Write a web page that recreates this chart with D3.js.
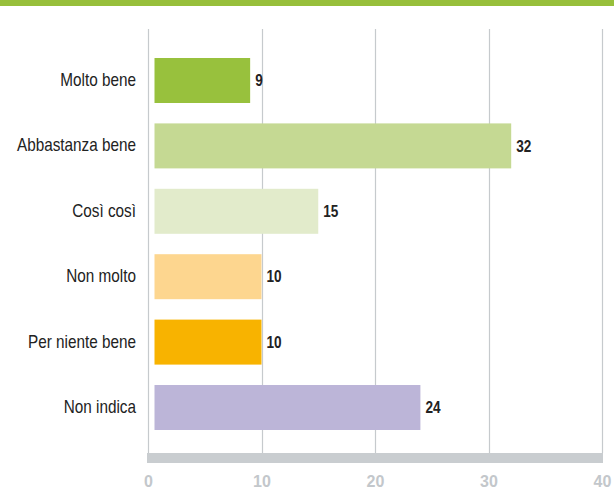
<!DOCTYPE html>
<html>
<head>
<meta charset="utf-8">
<script src="https://d3js.org/d3.v7.min.js"></script>
<style>
  body { margin: 0; background: #fff; }
</style>
</head>
<body>
<div id="chart"></div>
<script>
// chart data
var categories = ["Molto bene", "Abbastanza bene", "Così così", "Non molto", "Per niente bene", "Non indica"];
var values = [9, 32, 15, 10, 10, 24];
var barColors = ["#98c13d", "#c5d993", "#e2ebcb", "#fdd68f", "#f8b300", "#bcb5d8"];
var tickValues = [0, 10, 20, 30, 40];

var width = 614, height = 491;
// no narrow font available, so squeeze Liberation Sans horizontally
var narrow = 0.85;

var svg = d3.select("#chart")
  .append("svg")
    .attr("width", width)
    .attr("height", height);

// green strip on top
svg.append("rect")
  .attr("x", 0).attr("y", 0)
  .attr("width", width).attr("height", 6)
  .attr("fill", "#97bf3b");

var x = d3.scaleLinear()
  .domain([0, 40])
  .range([148, 602]);

var y = d3.scaleBand()
  .domain(categories)
  .range([47.8, 440.2])
  .paddingInner(0.312)
  .paddingOuter(0.156);

// vertical grid lines (0 is the left axis)
svg.selectAll(".grid")
  .data(tickValues)
  .enter()
  .append("line")
    .attr("class", "grid")
    .attr("x1", function(d) { return Math.round(x(d)) + 0.5; })
    .attr("x2", function(d) { return Math.round(x(d)) + 0.5; })
    .attr("y1", 29)
    .attr("y2", 453)
    .attr("stroke", "#c6cacd")
    .attr("stroke-width", 1.2);

// grey base band
svg.append("rect")
  .attr("x", x(0) - 1)
  .attr("y", 453)
  .attr("width", x(40) - x(0) + 2)
  .attr("height", 10)
  .attr("fill", "#c9cdd0");

// bars
svg.selectAll(".bar")
  .data(values)
  .enter()
  .append("rect")
    .attr("class", "bar")
    .attr("x", x(0) + 6.5)
    .attr("y", function(d, i) { return y(categories[i]); })
    .attr("width", function(d) { return x(d) - x(0) - 6.5; })
    .attr("height", y.bandwidth())
    .attr("fill", function(d, i) { return barColors[i]; });

// value labels
svg.selectAll(".val")
  .data(values)
  .enter()
  .append("text")
    .attr("class", "val")
    .attr("transform", function(d, i) {
      return "translate(" + (x(d) + 5) + "," + (y(categories[i]) + y.bandwidth() / 2) + ") scale(" + narrow + ",1)";
    })
    .attr("dy", "0.36em")
    .style("font-family", "'Liberation Sans', Arial")
    .style("font-weight", "bold")
    .style("font-size", "16px")
    .style("fill", "#222")
    .text(function(d) { return d; });

// category labels
svg.selectAll(".cat")
  .data(categories)
  .enter()
  .append("text")
    .attr("class", "cat")
    .attr("transform", function(d) {
      return "translate(136," + (y(d) + y.bandwidth() / 2 - 1) + ") scale(" + narrow + ",1)";
    })
    .attr("dy", "0.36em")
    .attr("text-anchor", "end")
    .style("font-family", "'Liberation Sans', Arial")
    .style("font-size", "18px")
    .style("fill", "#222")
    .text(function(d) { return d; });

// x axis tick labels
var xAxis = svg.append("g")
  .attr("transform", "translate(0,463)")
  .call(d3.axisBottom(x).tickValues(tickValues).tickSize(0).tickPadding(12.5));
xAxis.select(".domain").remove();
xAxis.selectAll("text")
  .style("font-family", "'Liberation Sans', Arial")
  .style("font-weight", "bold")
  .style("font-size", "16px")
  .style("fill", "#c3c7cb");
</script>
</body>
</html>
